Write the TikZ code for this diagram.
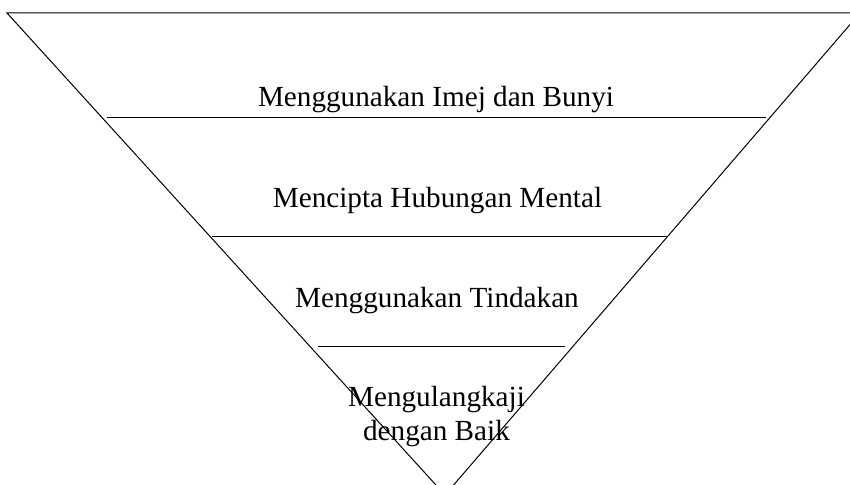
\documentclass[tikz,border=0pt]{standalone}
\usepackage{fontspec}
\setmainfont{Liberation Serif}
\begin{document}
\begin{tikzpicture}[x=1bp,y=-1bp,
    edge/.style={draw=black,line width=1bp},
    label/.style={font=\fontsize{29.2bp}{33.4bp}\selectfont,inner sep=0pt,align=center}]
  \useasboundingbox (0,0) rectangle (850,485);
  \clip (0,0) rectangle (850,485);
  % outer inverted triangle
  \coordinate (tl) at (7,13);
  \coordinate (tr) at (860,13);
  \coordinate (apex) at (445,495);
  \draw[edge] (tl) -- (tr) -- (apex) -- cycle;
  % level dividers
  \coordinate (d1l) at (107,118);
  \coordinate (d1r) at (766,118);
  \coordinate (d2l) at (212,237);
  \coordinate (d2r) at (667,237);
  \coordinate (d3l) at (318,346);
  \coordinate (d3r) at (565,346);
  \draw[edge] (d1l) -- (d1r);
  \draw[edge] (d2l) -- (d2r);
  \draw[edge] (d3l) -- (d3r);
  % level labels (the two-line label is anchored on its last baseline)
  \node[label,anchor=base] (l1) at (436,107) {Menggunakan Imej dan Bunyi};
  \node[label,anchor=base] (l2) at (437.5,208) {Mencipta Hubungan Mental};
  \node[label,anchor=base] (l3) at (437,308) {Menggunakan Tindakan};
  \node[label,anchor=base] (l4) at (436.5,440) {Mengulangkaji\\dengan Baik};
\end{tikzpicture}
\end{document}
